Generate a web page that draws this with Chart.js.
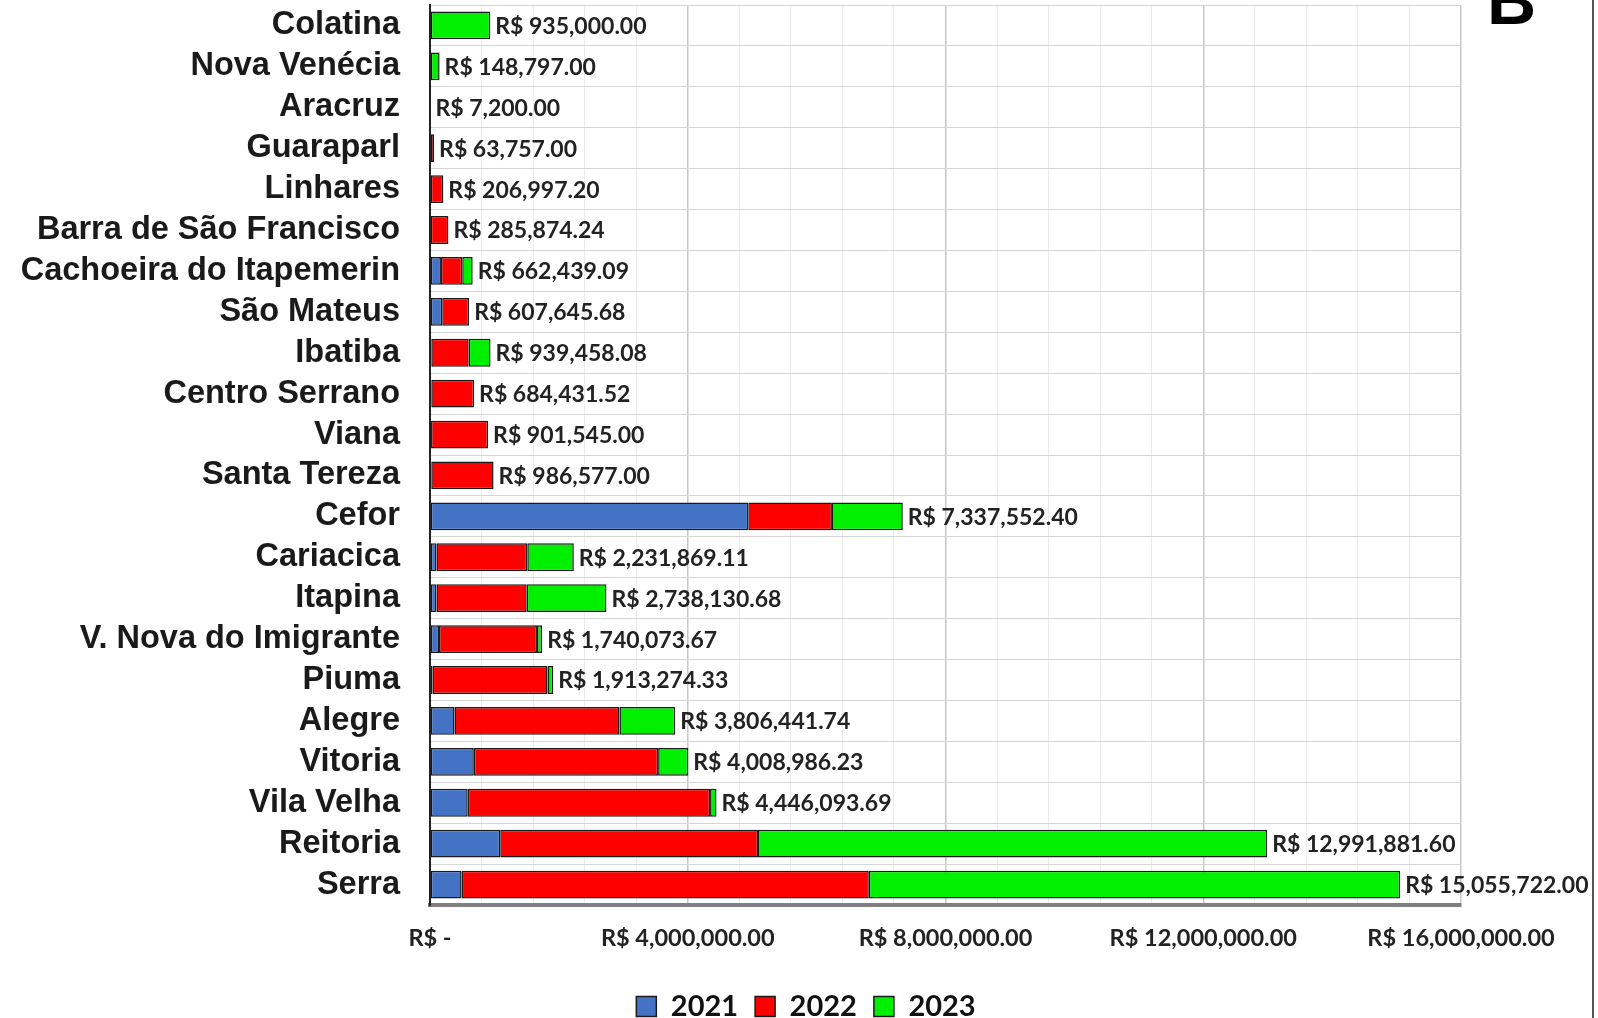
<!DOCTYPE html>
<html>
<head>
<meta charset="utf-8">
<script src="https://cdn.jsdelivr.net/npm/chart.js@4.4.0/dist/chart.umd.min.js"></script>
<style>
  html,body{margin:0;padding:0;background:#fff;}
  #wrap{position:relative;width:1598px;height:1018px;}
  #wrap:after{content:"";position:absolute;right:4px;top:0;bottom:0;border-right:2px solid #555;}
</style>
</head>
<body>
<div id="wrap"><canvas id="campusChart" width="1598" height="1018"></canvas></div>
<script>
// campi (de cima para baixo)
const campi = ['Colatina','Nova Venécia','Aracruz','Guaraparl','Linhares','Barra de São Francisco',
  'Cachoeira do Itapemerin','São Mateus','Ibatiba','Centro Serrano','Viana','Santa Tereza','Cefor',
  'Cariacica','Itapina','V. Nova do Imigrante','Piuma','Alegre','Vitoria','Vila Velha','Reitoria','Serra'];

// valores por ano (estimados a partir das barras)
const v2021 = [0,0,0,0,0,0, 170000,190000,20000,20000,16000,20000,4940000,
  100000,100000,140000,40000,380000,680000,585000,1090000,490000];
const v2022 = [0,0,7200,63757,206997.2,285874.24, 330000,417645.68,580000,664431.52,885545,966577,1297552.4,
  1410000,1400000,1520000,1783274.33,2560000,2860000,3761093.69,4000000,6320000];
const v2023 = [935000,148797,0,0,0,0, 162439.09,0,339458.08,0,0,0,1100000,
  721869.11,1238130.68,80073.67,90000,866441.74,468986.23,100000,7901881.6,8245722];

// totais escritos no gráfico
const totais = [935000,148797,7200,63757,206997.2,285874.24,662439.09,607645.68,939458.08,684431.52,
  901545,986577,7337552.4,2231869.11,2738130.68,1740073.67,1913274.33,3806441.74,4008986.23,
  4446093.69,12991881.6,15055722];

const anos = ['2021','2022','2023'];
const cores = ['#4472C4','#FF0000','#00F000'];

function reais(n){
  return 'R$ ' + n.toLocaleString('en-US',{minimumFractionDigits:2,maximumFractionDigits:2});
}

// rótulo do total no fim de cada barra + letra do painel
const totalLabels = {
  id:'totalLabels',
  afterDatasetsDraw(chart){
    const ctx = chart.ctx, xs = chart.scales.x, ys = chart.scales.y;
    ctx.save();
    ctx.font = 'bold 23px Lato';
    ctx.fillStyle = '#222';
    ctx.textBaseline = 'middle';
    totais.forEach((t,i)=>{
      const x = xs.getPixelForValue(t) + 5;
      const y = ys.getPixelForValue(i) + 1;
      ctx.fillText(reais(t), x, y);
    });
    ctx.font = 'bold 68px "Liberation Sans"';
    ctx.fillStyle = '#000';
    ctx.textBaseline = 'alphabetic';
    ctx.fillText('B', 1487, 24);
    ctx.restore();
  }
};

const campusChart = new Chart(document.getElementById('campusChart'), {
  type:'bar',
  data:{
    labels:campi,
    datasets:[v2021,v2022,v2023].map((d,k)=>({
      label:anos[k],
      data:d,
      backgroundColor:cores[k],
      borderColor:'#1a1a1a',
      borderWidth:1.5,
      borderSkipped:false,
      barPercentage:0.68,
      categoryPercentage:1
    }))
  },
  options:{
    indexAxis:'y',
    responsive:false,
    animation:false,
    layout:{padding:{top:5,right:0,left:14,bottom:-13}},
    scales:{
      x:{
        stacked:true,
        min:0,max:16000000,
        border:{display:true,color:'#808080',width:4},
        grid:{
          drawTicks:false,
          color:ctx=> (ctx.tick && ctx.tick.value % 4000000 === 0) ? '#c8c8c8' : '#ececec',
          lineWidth:ctx=> (ctx.tick && ctx.tick.value % 4000000 === 0) ? 1.5 : 1
        },
        ticks:{
          stepSize:800000,
          autoSkip:false,
          maxRotation:0,
          padding:19,
          color:'#222',
          font:{family:'Lato',weight:'bold',size:23.5},
          callback:v=> v===0 ? 'R$ -' : (v % 4000000 === 0 ? reais(v) : '')
        },
        afterFit:s=>{ s.height = 70; s.paddingRight = 137; }
      },
      y:{
        stacked:true,
        border:{display:true,color:'#222',width:2},
        grid:{offset:true,drawTicks:false,color:'#d6d6d6'},
        ticks:{
          autoSkip:false,
          padding:30,
          color:'#1a1a1a',
          font:{family:'Liberation Sans',weight:'bold',size:32.5}
        },
        afterFit:s=>{ s.width = 416; s.paddingTop = 0; s.paddingBottom = 0; }
      }
    },
    plugins:{
      legend:{
        position:'bottom',
        labels:{
          boxWidth:20,boxHeight:20,
          padding:17,
          color:'#111',
          font:{family:'Lato',weight:'bold',size:29}
        }
      },
      tooltip:{enabled:false}
    }
  },
  plugins:[totalLabels]
});
</script>
</body>
</html>
